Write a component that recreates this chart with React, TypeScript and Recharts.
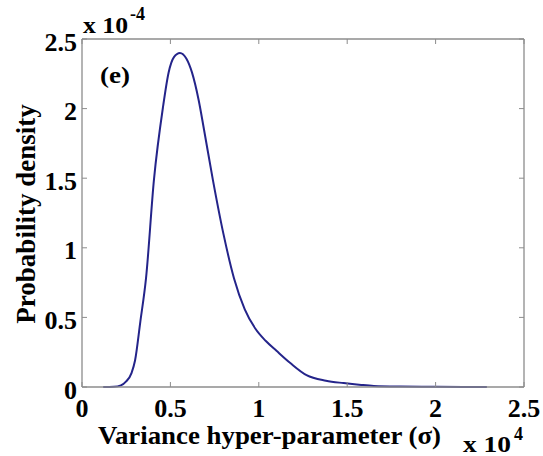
import { Line, LineChart, XAxis, YAxis } from "recharts";

// sigma in units of 1e4, density in units of 1e-4
const sigma = [
  0.12, 0.18, 0.22, 0.25, 0.28, 0.3, 0.33, 0.362, 0.407, 0.458, 0.49, 0.52,
  0.554, 0.59, 0.622, 0.66, 0.69, 0.74, 0.8, 0.86, 0.92, 0.98, 1.04, 1.1,
  1.18, 1.27, 1.38, 1.48, 1.58, 1.65, 1.8, 2.0, 2.29,
];
const density = [
  0, 0.002, 0.012, 0.04, 0.1, 0.19, 0.47, 0.78, 1.49, 2.01, 2.26, 2.37, 2.4,
  2.36, 2.26, 2.06, 1.85, 1.49, 1.1, 0.78, 0.56, 0.42, 0.33, 0.26, 0.17,
  0.085, 0.045, 0.028, 0.015, 0.008, 0.003, 0.001, 0,
];
const xTicks = [0, 0.5, 1, 1.5, 2, 2.5];
const yTicks = [0, 0.5, 1, 1.5, 2, 2.5];

const data = sigma.map((s, i) => ({ sigma: s, density: density[i] }));

const W = 543;
const H = 456;
const LEFT = 82;
const RIGHT = 524;
const TOP = 39;
const BOTTOM = 387;
const TICK = 5;
const BOX = "#8c8c8c";
const FONT = "'Liberation Serif', 'DejaVu Serif', serif";
const textStyle = { fontFamily: FONT, fontWeight: 700 };

const fmt = (v: number) => String(v);

function BottomTick({ x, payload }: any) {
  return (
    <g>
      <line x1={x} x2={x} y1={BOTTOM} y2={BOTTOM - TICK} stroke={BOX} />
      <text
        x={x}
        y={408}
        textAnchor="middle"
        dominantBaseline="central"
        style={textStyle}
        fontSize={26}
        fill="#000"
      >
        {fmt(payload.value)}
      </text>
    </g>
  );
}

function LeftTick({ y, payload }: any) {
  return (
    <g>
      <line x1={LEFT} x2={LEFT + TICK} y1={y} y2={y} stroke={BOX} />
      <text
        x={77}
        y={y + 3}
        textAnchor="end"
        dominantBaseline="central"
        style={textStyle}
        fontSize={26}
        fill="#000"
      >
        {fmt(payload.value)}
      </text>
    </g>
  );
}

function TopTick({ x }: any) {
  return <line x1={x} x2={x} y1={TOP} y2={TOP + TICK} stroke={BOX} />;
}

function RightTick({ y }: any) {
  return <line x1={RIGHT} x2={RIGHT - TICK} y1={y} y2={y} stroke={BOX} />;
}

export default function App() {
  return (
    <div style={{ position: "absolute", left: 0, top: 0, width: W, height: H, background: "#fff" }}>
      <LineChart
        width={W}
        height={H}
        data={data}
        margin={{ top: TOP - 1, right: W - RIGHT - 1, bottom: 0, left: 0 }}
      >
        <XAxis
          xAxisId="bottom"
          dataKey="sigma"
          type="number"
          domain={[0, 2.5]}
          ticks={xTicks}
          height={H - BOTTOM}
          axisLine={{ stroke: BOX, strokeWidth: 1.3 }}
          tickLine={false}
          tick={<BottomTick />}
          interval={0}
        />
        <XAxis
          xAxisId="top"
          orientation="top"
          dataKey="sigma"
          type="number"
          domain={[0, 2.5]}
          ticks={xTicks}
          height={1}
          axisLine={{ stroke: BOX, strokeWidth: 1.3 }}
          tickLine={false}
          tick={<TopTick />}
          interval={0}
        />
        <YAxis
          yAxisId="left"
          type="number"
          domain={[0, 2.5]}
          ticks={yTicks}
          width={LEFT}
          axisLine={{ stroke: BOX, strokeWidth: 1.3 }}
          tickLine={false}
          tick={<LeftTick />}
          interval={0}
        />
        <YAxis
          yAxisId="right"
          orientation="right"
          type="number"
          domain={[0, 2.5]}
          ticks={yTicks}
          width={1}
          axisLine={{ stroke: BOX, strokeWidth: 1.3 }}
          tickLine={false}
          tick={<RightTick />}
          interval={0}
        />
        <Line
          xAxisId="top"
          yAxisId="right"
          dataKey="density"
          stroke="none"
          dot={false}
          isAnimationActive={false}
        />
        <Line
          xAxisId="bottom"
          yAxisId="left"
          type="monotone"
          dataKey="density"
          stroke="#24248a"
          strokeWidth={2}
          dot={false}
          isAnimationActive={false}
        />
      </LineChart>
      <svg
        width={W}
        height={H}
        style={{ position: "absolute", left: 0, top: 0, pointerEvents: "none", ...textStyle }}
      >
        <text x={83} y={33} fontSize={24} textLength={45} lengthAdjust="spacingAndGlyphs">x 10</text>
        <text x={130} y={20} fontSize={18}>-4</text>
        <text x={100} y={83} fontSize={24} textLength={30} lengthAdjust="spacingAndGlyphs">(e)</text>
        <text
          x={98}
          y={444}
          fontSize={26}
          textLength={343}
          lengthAdjust="spacingAndGlyphs"
        >
          Variance hyper-parameter (σ)
        </text>
        <text x={463} y={452} fontSize={24} textLength={48} lengthAdjust="spacingAndGlyphs">x 10</text>
        <text x={514} y={440} fontSize={18}>4</text>
        <text
          transform="translate(35, 214) rotate(-90)"
          textAnchor="middle"
          fontSize={27}
        >
          Probability density
        </text>
      </svg>
    </div>
  );
}
